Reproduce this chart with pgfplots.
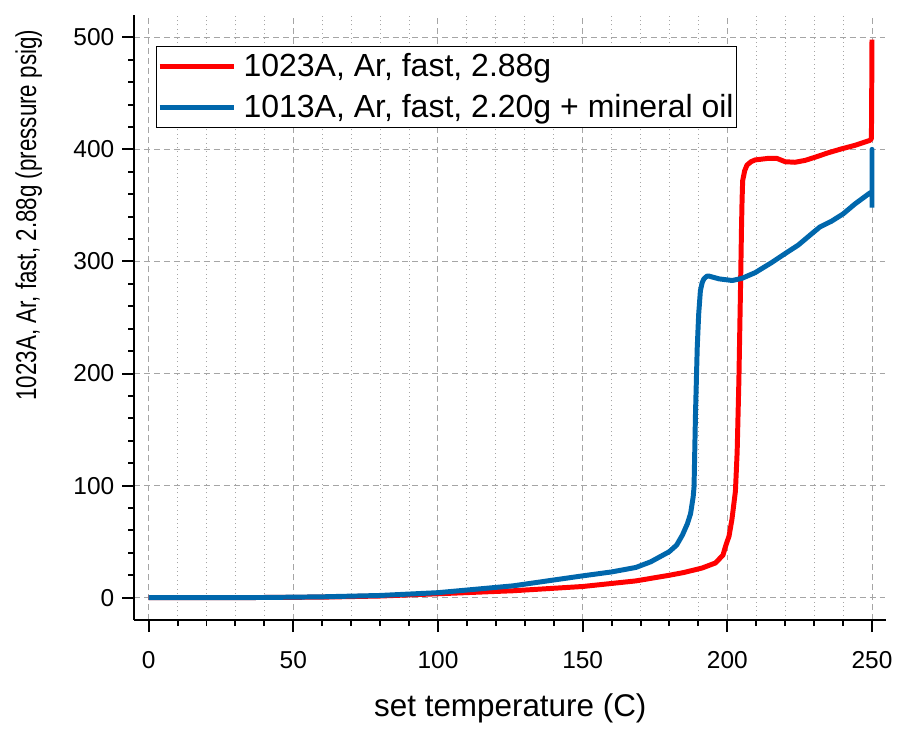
\documentclass[border=0pt]{standalone}
\usepackage{pgfplots}
\pgfplotsset{compat=1.18}
\usepackage{fontspec}
\setmainfont{Liberation Sans}

\definecolor{runred}{RGB}{255,0,0}
\definecolor{runblue}{RGB}{0,103,172}
\definecolor{gridgray}{RGB}{165,165,165}

\begin{document}
\begin{tikzpicture}
\begin{axis}[
  scale only axis,
  width=378.5pt, height=304.5pt,
  xmin=-5, xmax=255,
  ymin=-20, ymax=520,
  axis lines*=left,
  axis line style={line width=1pt, black},
  tick align=outside,
  major tick length=6pt,
  minor tick length=3pt,
  tick style={line width=1pt, black},
  xtick={0,50,...,250},
  ytick={0,100,...,500},
  minor x tick num=4,
  minor y tick num=4,
  xmajorgrids=true, ymajorgrids=true,
  xminorgrids=true,
  major grid style={gridgray, line width=0.5pt, dash pattern=on 3pt off 2pt},
  minor grid style={gridgray, line width=0.5pt, dash pattern=on 0.5pt off 1.7pt},
  /pgf/number format/assume math mode=true,
  ticklabel style={font=\fontsize{12.3}{14}\selectfont},
  xticklabel style={yshift=-6pt},
  yticklabel style={xshift=-0.5pt},
  xlabel={set temperature (C)},
  xlabel style={font=\fontsize{15.8}{19}\selectfont, at={(rel axis cs:0.5,-0.146)}, anchor=center},
  ylabel={\scalebox{0.782}[1]{1023A, Ar, fast, 2.88g (pressure psig)}},
  ylabel style={font=\fontsize{14.4}{17}\selectfont, at={(rel axis cs:-0.140,0.669)}, anchor=center},
  legend style={at={(rel axis cs:0.029,0.949)}, anchor=north west,
    draw=black, line width=0.5pt, fill=white,
    font=\fontsize{16.1}{19}\selectfont,
    inner xsep=0.3pt, inner ysep=2.5pt,
    row sep=5.5pt, column sep=2.5pt,
    nodes={inner sep=1pt}},
  legend cell align=left,
  legend image code/.code={\draw[#1] (0pt,0pt) -- (37.5pt,0pt);},
]

% run 1023A
\addplot[runred, line width=2.5pt, line join=round] coordinates {
  (0,0) (20,0) (40,0.2) (60,0.5) (80,1.5) (100,3.5) (126,6.2) (150,10)
  (168.4,15) (179.9,20) (185,22.5) (191.3,26.5) (195.9,31) (198.5,38)
  (199.4,46) (200.6,55) (201.6,70) (202.8,95) (203.4,130) (204.0,194)
  (204.6,282) (204.9,330) (205.1,355) (205.3,372) (206.0,381) (206.8,386)
  (208.2,389) (209.6,390.6) (214.2,392) (217.1,392) (220,389) (223.4,388.5)
  (226.9,390.2) (230.3,393) (234.9,397) (239.5,400.5) (244.1,403.6)
  (249.2,408) (249.8,409.5) (249.9,450) (250,498)
};
\addlegendentry{1023A, Ar, fast, 2.88g}

% run 1013A with mineral oil
\addplot[runblue, line width=2.5pt, line join=round] coordinates {
  (0,0) (20,0) (40,0.2) (60,0.8) (80,2) (100,4.5) (126,10.6) (150,19.5)
  (160,23) (168.4,27) (173.5,32) (179.9,41) (182.5,47) (184.5,56)
  (186.2,66) (187.3,75) (188.2,90) (188.5,99) (189.0,164) (189.6,223)
  (190.1,253) (190.7,274) (191.3,281) (191.9,284.5) (193.0,287)
  (193.6,287) (197.1,284.5) (201.7,283) (205.1,285) (209.6,290)
  (215.3,299) (219.9,306.9) (224.5,314.6) (229.1,324.6) (232,330.8)
  (236,335.9) (240,342.4) (244.1,351.3) (249.2,361) (250,362)
  (250,400) (250,348)
};
\addlegendentry{1013A, Ar, fast, 2.20g + mineral oil}

\end{axis}
% page frame
\path[use as bounding box] (-67.5pt,-47.5pt) rectangle (382pt,312pt);
\end{tikzpicture}
\end{document}
